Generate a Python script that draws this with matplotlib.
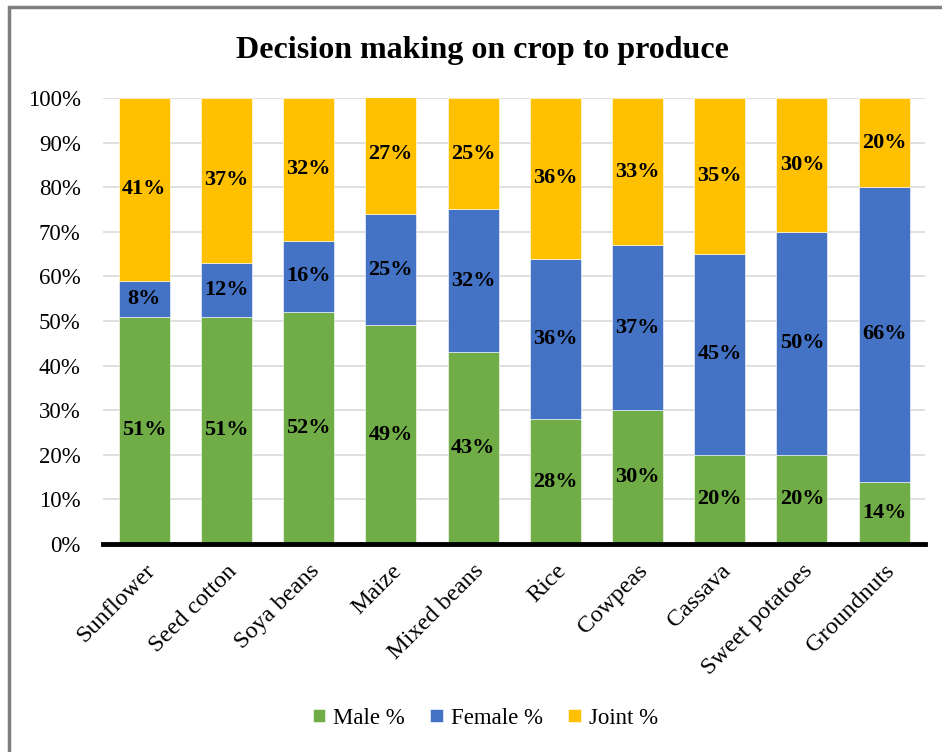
import numpy as np
import matplotlib.pyplot as plt
from matplotlib.patches import Rectangle
from matplotlib.ticker import PercentFormatter

crops = ['Sunflower', 'Seed cotton', 'Soya beans', 'Maize', 'Mixed beans',
         'Rice', 'Cowpeas', 'Cassava', 'Sweet potatoes', 'Groundnuts']
male = [51, 51, 52, 49, 43, 28, 30, 20, 20, 14]
female = [8, 12, 16, 25, 32, 36, 37, 45, 50, 66]
joint = [41, 37, 32, 27, 25, 36, 33, 35, 30, 20]

series = [('Male %', male, '#70AD47'),
          ('Female %', female, '#4472C4'),
          ('Joint %', joint, '#FFC000')]

plt.rcParams['font.family'] = ['Liberation Serif', 'DejaVu Serif']

fig = plt.figure(figsize=(9.42, 7.52), dpi=100)
ax = fig.add_axes([0.1093, 0.2766, 0.873, 0.5931])

x = np.arange(len(crops))
bottom = np.zeros(len(crops))
for name, vals, color in series:
    vals = np.array(vals, dtype=float)
    ax.bar(x, vals, 0.62, bottom=bottom, color=color, label=name,
           edgecolor='white', linewidth=0.4, zorder=2)
    for xi, b, v in zip(x, bottom, vals):
        ax.text(xi, b + v / 2, f'{v:.0f}%', ha='center', va='center',
                fontsize=16, fontweight='bold', zorder=3)
    bottom += vals

ax.set_xlim(-0.5, len(crops) - 0.5)
ax.set_ylim(0, 100)
ax.set_yticks(np.arange(0, 101, 10))
ax.yaxis.set_major_formatter(PercentFormatter(decimals=0))
ax.grid(axis='y', color='#d9d9d9', linewidth=1.2, zorder=0)
ax.set_axisbelow(True)
for side in ['top', 'right', 'left']:
    ax.spines[side].set_visible(False)
ax.spines['bottom'].set_linewidth(3.5)
ax.spines['bottom'].set_zorder(4)
ax.tick_params(axis='y', length=0, labelsize=16.5, pad=16)
ax.set_xticks(x)
ax.set_xticklabels(crops, rotation=45, ha='right', rotation_mode='anchor')
ax.tick_params(axis='x', length=0, labelsize=17.5, pad=12)

fig.suptitle('Decision making on crop to produce', x=0.512, y=0.952,
             fontsize=23, fontweight='bold')

fig.legend(loc='center', bbox_to_anchor=(0.515, 0.045), ncol=3, frameon=False,
           fontsize=16.5, handlelength=0.55, handleheight=0.55, handletextpad=0.35,
           columnspacing=1.1)

# outer frame, running off the right and bottom edges
fig.patches.append(Rectangle((9 / 942, -0.05), 1.2, 1 - 7 / 752 + 0.05,
                             transform=fig.transFigure, fill=False,
                             edgecolor='#7f7f7f', linewidth=2.5))

fig.savefig('out.png', dpi=100)
